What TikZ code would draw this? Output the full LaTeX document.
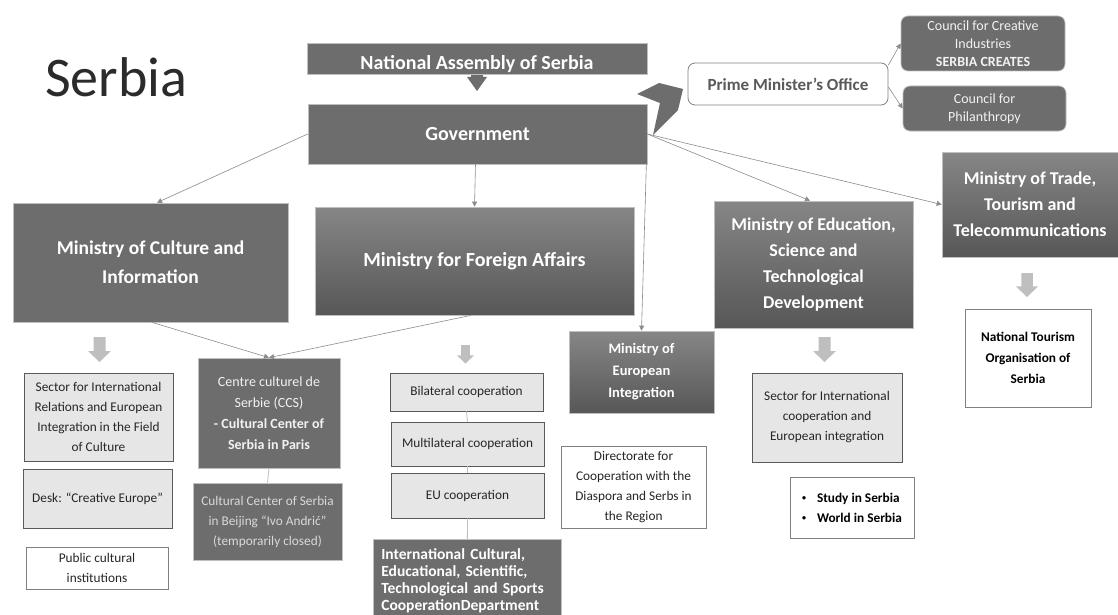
\documentclass[tikz,border=0pt]{standalone}
\usepackage{fontspec}
\setmainfont{Carlito}
\usetikzlibrary{arrows.meta}
\definecolor{darkfill}{HTML}{6D6D6D}
\definecolor{boxline}{HTML}{BFBFBF}
\definecolor{gradtop}{HTML}{868686}
\definecolor{gradbot}{HTML}{575757}
\definecolor{lightfill}{HTML}{E6E6E6}
\definecolor{lightline}{HTML}{595959}
\definecolor{wline}{HTML}{808080}
\definecolor{textdark}{HTML}{262626}
\definecolor{pmtext}{HTML}{595959}
\definecolor{conncol}{HTML}{8C8C8C}
\definecolor{thincol}{HTML}{BFBFBF}
\definecolor{garrow}{HTML}{BFBFBF}
\definecolor{titlecol}{HTML}{2B2B2B}
\definecolor{paletext}{HTML}{F2F2F2}
\definecolor{greytext}{HTML}{D9D9D9}
\newcommand{\myfs}[2]{\fontsize{#1}{#2}\selectfont}
\newcommand{\smallbul}{\raisebox{1.5pt}{\fontsize{8}{8}\selectfont •}}
\newcommand{\grayarrow}[3]{%
  \begin{scope}[shift={(#1,#2)},scale=#3]
    \fill[garrow] (-6,0) -- (6,0) -- (6,14) -- (11.5,14) -- (0,25) -- (-11.5,14) -- (-6,14) -- cycle;
  \end{scope}}
\tikzset{
  sz/.style 2 args={minimum width=#1pt,minimum height=#2pt},
  darkbox/.style={draw=boxline,line width=0.7pt,fill=darkfill,text=white,align=center,inner sep=2pt},
  gradbox/.style={draw=boxline,line width=0.7pt,top color=gradtop,bottom color=gradbot,text=white,align=center,inner sep=2pt},
  lightbox/.style={draw=lightline,line width=0.8pt,fill=lightfill,text=textdark,align=center,inner sep=2pt,font=\myfs{13.3}{20}},
  wbox/.style={draw=wline,line width=0.8pt,fill=white,text=textdark,align=center,inner sep=2pt,font=\myfs{13.3}{20}},
  conn/.style={draw=conncol,line width=0.6pt,-{Triangle[length=5pt,width=5pt]}},
  thinline/.style={draw=thincol,line width=0.8pt}
}
\begin{document}
\begin{tikzpicture}[x=1pt,y=-1pt]
\useasboundingbox[fill=white] (0,0) rectangle (1118,615);

% title
\node[anchor=base west,text=titlecol,font=\myfs{56}{60},inner sep=0pt] (title) at (45,97) {Serbia};

% assembly arrow + box
\fill[darkfill] (471,74) -- (483,74) -- (483,77) -- (487,77) -- (477,91) -- (467,77) -- (471,77) -- cycle;
\node[darkbox,sz={340}{31},font=\bfseries\myfs{20}{24},text height=23pt,text depth=0pt] (asm) at (477,58.5) {National Assembly of Serbia};

% government
\node[darkbox,sz={339}{60},font=\bfseries\myfs{20}{24}] (gov) at (477.5,134) {Government};

% chevron
\fill[darkfill] (637,94) -- (659,83) -- (683,89) -- (678,110) -- (653,135) -- (660,103) -- cycle;

% PM office and councils
\node[draw=wline,line width=0.8pt,rounded corners=7pt,fill=white,text=pmtext,font=\bfseries\myfs{17}{20},sz={200}{42}] (pm) at (788,84) {Prime Minister’s Office};
\node[darkbox,rounded corners=7pt,sz={164}{55},text=paletext,font=\myfs{14}{18}] (ccre) at (983,43.5) {Council for Creative\\Industries\\\textbf{SERBIA CREATES}};
\node[darkbox,rounded corners=7pt,sz={163}{45},text=paletext,font=\myfs{14}{18}] (cphil) at (984.5,108.5) {Council for\\Philanthropy};

% ministries
\node[darkbox,sz={275}{119},font=\bfseries\myfs{19.5}{29}] (cult) at (150.5,262.5) {Ministry of Culture and\\Information};
\node[gradbox,sz={319}{108},font=\bfseries\myfs{20}{24}] (fa) at (474.5,261) {Ministry for Foreign Affairs};
\node[gradbox,sz={145}{82},font=\bfseries\myfs{14.5}{22}] (mei) at (641.5,372) {Ministry of\\European\\Integration};
\node[gradbox,sz={199}{127},font=\bfseries\myfs{18}{26}] (edu) at (813.5,264.5) {Ministry of Education,\\Science and\\Technological\\Development};
\node[gradbox,sz={176}{105},font=\bfseries\myfs{18}{26}] (trade) at (1030,204.5) {Ministry of Trade,\\Tourism and\\Telecommunications};

% gray block arrows
\grayarrow{99.5}{337}{1}
\grayarrow{465.5}{345}{0.74}
\grayarrow{824.5}{337}{1}
\grayarrow{1027}{273}{0.96}

% culture side
\node[lightbox,sz={149}{88}] (sec1) at (98.5,417) {Sector for International\\Relations and European\\Integration in the Field\\of Culture};
\node[lightbox,sz={149}{59}] (desk) at (97.5,498.5) {Desk: “Creative Europe”};
\node[wbox,sz={142}{42}] (pub) at (97,568) {Public cultural\\institutions};

\node[darkbox,sz={142}{110},text=paletext,font=\myfs{14}{21}] (ccs) at (269,413) {Centre culturel de\\Serbie (CCS)\\\textbf{- Cultural Center of}\\\textbf{Serbia in Paris}};
\node[darkbox,sz={149}{77},text=greytext,font=\myfs{13.3}{20}] (bei) at (267.5,521.5) {Cultural Center of Serbia\\in Beijing “Ivo Andrić”\\(temporarily closed)};

% foreign affairs side
\node[lightbox,sz={153}{38}] (bil) at (466.5,392) {Bilateral cooperation};
\node[lightbox,sz={153}{44}] (mul) at (467.5,444) {Multilateral cooperation};
\node[lightbox,sz={153}{45}] (euc) at (467.5,495.5) {EU cooperation};
\node[darkbox,anchor=north west,align=left,text width=172pt,inner xsep=8pt,inner ysep=9pt,minimum width=188pt,font=\bfseries\myfs{15.5}{17}] (intl) at (373,539) {International Cultural,\\Educational, Scientific,\\Technological and Sports\\CooperationDepartment};

\node[wbox,sz={145}{82}] (dir) at (633.5,487) {Directorate for\\Cooperation with the\\Diaspora and Serbs in\\the Region};

% education side
\node[lightbox,sz={150}{89}] (sec2) at (827,417.5) {Sector for International\\cooperation and\\European integration};
\node[wbox,sz={124}{61},align=left,font=\bfseries\myfs{13.3}{20},text=black] (study) at (852,507.5) {\smallbul\hspace{11pt}Study in Serbia\\\smallbul\hspace{11pt}World in Serbia};

% tourism
\node[wbox,sz={126}{98},font=\bfseries\myfs{13.3}{21},text=black] (tour) at (1028,358) {National Tourism\\Organisation of\\Serbia};

% connectors
\draw[conn] (gov.west) -- ([xshift=6.5pt]cult.north);
\draw[conn] ([xshift=-2pt]gov.south) -- (fa.north);
\draw[conn] ([xshift=-1pt]gov.south east) -- (mei.north);
\draw[conn] (gov.east) -- ([xshift=-3.5pt]edu.north);
\draw[conn] (gov.east) -- (trade.west);
\draw[conn] ([yshift=19pt]pm.east) -- (ccre.west);
\draw[conn] ([yshift=-3pt]pm.east) -- (cphil.west);
\draw[conn] ([xshift=1.5pt]cult.south) -- (ccs.north);
\draw[conn] ([xshift=-3.5pt]fa.south) -- (ccs.north);
\draw[thinline] (ccs.south) -- (bei.north);
\draw[thinline] (bil.south) -- (mul.north);
\draw[thinline] (mul.south) -- (euc.north);
\draw[thinline] (euc.south) -- (intl.north);
\end{tikzpicture}
\end{document}
